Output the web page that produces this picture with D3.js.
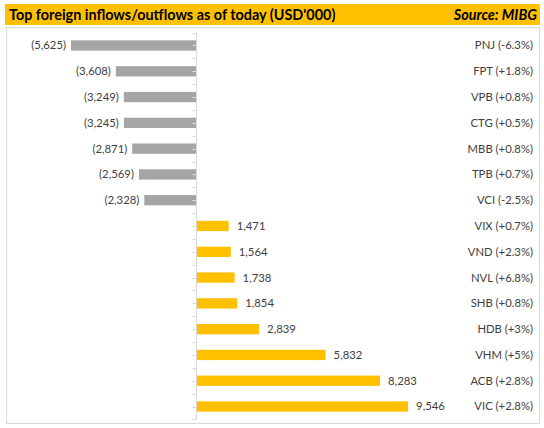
<!DOCTYPE html>
<html>
<head>
<meta charset="utf-8">
<script src="https://cdn.jsdelivr.net/npm/d3@7"></script>
<style>
  body { margin: 0; background: #fff; }
  text { font-family: Lato, "Open Sans", sans-serif; }
</style>
</head>
<body>
<div class="chart"></div>
<script>
// tickers, % change label and net flow (USD'000)
const tickers = ["PNJ", "FPT", "VPB", "CTG", "MBB", "TPB", "VCI", "VIX", "VND", "NVL", "SHB", "HDB", "VHM", "ACB", "VIC"];
const changes = ["-6.3%", "+1.8%", "+0.8%", "+0.5%", "+0.8%", "+0.7%", "-2.5%", "+0.7%", "+2.3%", "+6.8%", "+0.8%", "+3%", "+5%", "+2.8%", "+2.8%"];
const flows = [-5625, -3608, -3249, -3245, -2871, -2569, -2328, 1471, 1564, 1738, 1854, 2839, 5832, 8283, 9546];

const title = "Top foreign inflows/outflows as of today (USD'000)";
const source = "Source: MIBG";

const W = 544, H = 428;
const svg = d3.select('.chart').append('svg')
    .attr('width', W)
    .attr('height', H);

// header band
svg.append('rect')
    .attr('x', 5).attr('y', 4)
    .attr('width', 535).attr('height', 21)
    .attr('fill', '#FFC000');
svg.append('text')
    .attr('x', 9).attr('y', 19.5)
    .attr('font-size', 14.4).attr('font-weight', 'bold')
    .attr('fill', '#000')
    .text(title);
svg.append('text')
    .attr('x', 537).attr('y', 19.5)
    .attr('text-anchor', 'end')
    .attr('font-size', 14.4).attr('font-weight', 'bold').attr('font-style', 'italic')
    .attr('fill', '#000')
    .text(source);

// chart frame
svg.append('rect')
    .attr('x', 6.5).attr('y', 27.5)
    .attr('width', 533).attr('height', 396)
    .attr('fill', 'none')
    .attr('stroke', '#D9D9D9');

const rows = tickers.map((t, i) => ({ name: t, change: changes[i], value: flows[i] }));

// scales
const x = d3.scaleLinear()
    .domain([-6000, 10000])
    .range([196 - 6000 * 0.02222, 196 + 10000 * 0.02222]);
const y = d3.scaleBand()
    .domain(tickers)
    .range([32.6, 419.4])
    .paddingInner(0.6)
    .paddingOuter(0.3);

const zero = Math.round(x(0)) + 0.5;

// bars
svg.selectAll('.bar')
    .data(rows)
    .enter().append('rect')
    .attr('class', 'bar')
    .attr('x', d => x(Math.min(0, d.value)))
    .attr('y', d => y(d.name))
    .attr('width', d => Math.abs(x(d.value) - x(0)))
    .attr('height', y.bandwidth())
    .attr('fill', d => d.value < 0 ? '#A5A5A5' : '#FFC000');

// category axis with half-step ticks
const yTop = y.range()[0], yBottom = y.range()[1];
const tickYs = d3.range(0, tickers.length * 2 + 1).map(k => yTop + k * (yBottom - yTop) / (tickers.length * 2));
const axis = svg.append('g');
axis.append('line')
    .attr('x1', zero).attr('x2', zero)
    .attr('y1', yTop).attr('y2', yBottom)
    .attr('stroke', '#D9D9D9');
axis.selectAll('.tick')
    .data(tickYs)
    .enter().append('line')
    .attr('class', 'tick')
    .attr('x1', zero - 4).attr('x2', zero)
    .attr('y1', d => Math.round(d) + 0.5).attr('y2', d => Math.round(d) + 0.5)
    .attr('stroke', '#D9D9D9');

// value labels
const fmt = d3.format(',');
svg.selectAll('.val')
    .data(rows)
    .enter().append('text')
    .attr('class', 'val')
    .attr('x', d => d.value < 0 ? x(d.value) - 5 : x(d.value) + 8)
    .attr('y', d => y(d.name) + y.bandwidth() / 2)
    .attr('dy', '0.35em')
    .attr('text-anchor', d => d.value < 0 ? 'end' : 'start')
    .attr('font-size', 11.3)
    .attr('fill', '#404040')
    .text(d => d.value < 0 ? '(' + fmt(-d.value) + ')' : fmt(d.value));

// category labels on the right
svg.selectAll('.cat')
    .data(rows)
    .enter().append('text')
    .attr('class', 'cat')
    .attr('x', 533)
    .attr('y', d => y(d.name) + y.bandwidth() / 2)
    .attr('dy', '0.35em')
    .attr('text-anchor', 'end')
    .attr('font-size', 11.3)
    .attr('fill', '#404040')
    .text(d => d.name + ' (' + d.change + ')');
</script>
</body>
</html>
